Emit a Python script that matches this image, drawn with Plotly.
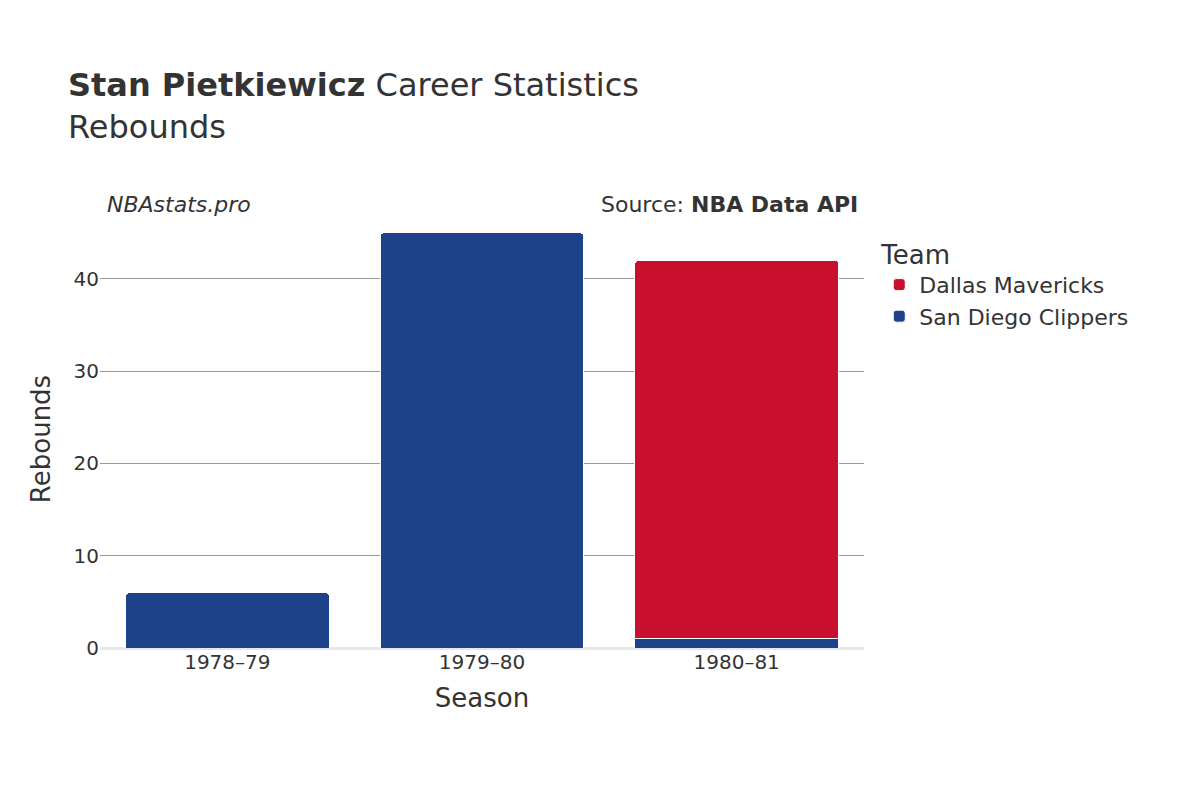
import plotly.graph_objects as go

seasons = ['1978–79', '1979–80', '1980–81']
clippers = [6, 45, 1]
mavericks = [0, 0, 41]

fig = go.Figure()
fig.add_trace(go.Bar(x=seasons, y=clippers, name='San Diego Clippers',
                     marker=dict(color='#1d428a', line=dict(color='white', width=1))))
fig.add_trace(go.Bar(x=seasons[2:], y=mavericks[2:], name='Dallas Mavericks',
                     marker=dict(color='#c8102e', line=dict(color='white', width=1))))

fig.update_layout(
    width=1200, height=800, barmode='stack', barcornerradius=4, bargap=0.2,
    font=dict(family='DejaVu Sans', size=20, color='#333'),
    plot_bgcolor='white', paper_bgcolor='white',
    margin=dict(l=92, r=344, t=222, b=160),
    title=dict(text='<b>Stan Pietkiewicz</b> Career Statistics<br>Rebounds',
               x=0.05, xanchor='left', y=0.89, yanchor='top', font=dict(size=32)),
    legend=dict(title=dict(text='Team', font=dict(size=26)), x=1.02, y=1.0,
                yanchor='top', font=dict(size=22)),
    xaxis=dict(title=dict(text='Season', font=dict(size=26)), tickfont=dict(size=20)),
    yaxis=dict(title=dict(text='Rebounds', font=dict(size=26)), range=[0, 45.3],
               gridcolor='#999', tickvals=[0, 10, 20, 30, 40], ticksuffix=' ',
               zeroline=True, zerolinecolor='#e8e8e8', zerolinewidth=3),
    annotations=[
        dict(text='<i>NBAstats.pro</i>', xref='paper', yref='paper', x=0.007, y=1.06,
             xanchor='left', yanchor='middle', showarrow=False, font=dict(size=22)),
        dict(text='Source: <b>NBA Data API</b>', xref='paper', yref='paper', x=0.995, y=1.06,
             xanchor='right', yanchor='middle', showarrow=False, font=dict(size=22)),
    ],
)
fig.write_html('out.html')
